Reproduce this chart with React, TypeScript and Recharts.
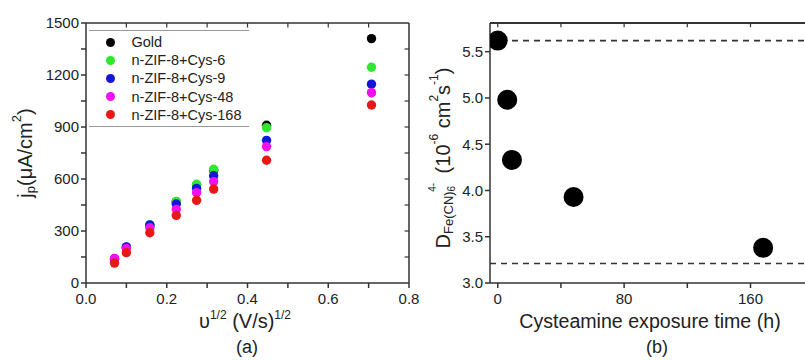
import React from 'react';
import { ScatterChart, Scatter, XAxis, YAxis, Legend, ReferenceLine } from 'recharts';

// ---------- Panel (a) data ----------
const sqrtScanRate = [0.0707, 0.1, 0.1581, 0.2236, 0.2739, 0.3162, 0.4472, 0.7071];
const goldJp = [135, 205, 330, 468, 565, 650, 910, 1410];
const cys6Jp = [138, 206, 335, 471, 570, 656, 896, 1245];
const cys9Jp = [140, 208, 335, 456, 546, 619, 823, 1147];
const cys48Jp = [142, 200, 319, 425, 521, 585, 787, 1098];
const cys168Jp = [115, 175, 290, 390, 477, 542, 708, 1027];
const seriesNamesA = ['Gold', 'n-ZIF-8+Cys-6', 'n-ZIF-8+Cys-9', 'n-ZIF-8+Cys-48', 'n-ZIF-8+Cys-168'];
const seriesColorsA = ['#000000', '#2ee82e', '#1515d8', '#f010f0', '#e81818'];
const xTicksA = [0, 0.1, 0.2, 0.3, 0.4, 0.5, 0.6, 0.7, 0.8];
const yTicksA = [0, 150, 300, 450, 600, 750, 900, 1050, 1200, 1350, 1500];
const xDomainA = [0, 0.8];
const yDomainA = [0, 1500];

// ---------- Panel (b) data ----------
const exposureTime = [0, 6, 9, 48, 168];
const diffusionCoeff = [5.62, 4.98, 4.33, 3.93, 3.38];
const limitLines = [5.62, 3.21];
const xTicksB = [0, 40, 80, 120, 160];
const yTicksB = [3.0, 3.5, 4.0, 4.5, 5.0, 5.5];
const xDomainB = [-4.9, 194.5];
const yDomainB = [3.0, 5.81];

const FONT = '"Liberation Sans", Arial, Helvetica, sans-serif';
const AXIS = '#333';
const TXT = '#222';

const seriesA = [goldJp, cys6Jp, cys9Jp, cys48Jp, cys168Jp].map((vals, i) => ({
  name: seriesNamesA[i],
  color: seriesColorsA[i],
  data: sqrtScanRate.map((x, j) => ({ x, y: vals[j] })),
}));
const dataB = exposureTime.map((x, i) => ({ x, y: diffusionCoeff[i] }));

const dotA = (color: string) => (p: any) => <circle cx={p.cx} cy={p.cy} r={4.7} fill={color} />;
const dotB = (p: any) => <circle cx={p.cx} cy={p.cy} r={10} fill="#000" />;

const tickStyle = { fontSize: 15, fill: TXT, fontFamily: FONT };

const LabelAY = () => (
  <text transform="rotate(-90, 25, 153)" x={25} y={153} textAnchor="middle" dominantBaseline="central"
    fontFamily={FONT} fontSize={20} fill={TXT}>
    j<tspan dy={5} fontSize={13}>p</tspan>
    <tspan dy={-5}>(μA/cm</tspan>
    <tspan dy={-9} fontSize={13}>2</tspan>
    <tspan dy={9}>)</tspan>
  </text>
);

const LabelAX = () => (
  <g fontFamily={FONT} fill={TXT}>
    <text x={245} y={328} textAnchor="middle" fontSize={20}>
      υ<tspan dy={-9} fontSize={12}>1/2</tspan>
      <tspan dy={9}> (V/s)</tspan>
      <tspan dy={-9} fontSize={12}>1/2</tspan>
    </text>
    <text x={247} y={353} textAnchor="middle" fontSize={18}>(a)</text>
  </g>
);

const LabelBY = () => (
  <text transform="rotate(-90, 23, 158)" x={23} y={158} textAnchor="middle" dominantBaseline="central"
    fontFamily={FONT} fontSize={20} fill={TXT}>
    D<tspan dy={5} fontSize={13}>Fe(CN)</tspan>
    <tspan dy={3} fontSize={10}>6</tspan>
    <tspan dy={-19} dx={-6} fontSize={10}>4-</tspan>
    <tspan dy={11} dx={4}> (10</tspan>
    <tspan dy={-9} fontSize={12}>-6</tspan>
    <tspan dy={9}> cm</tspan>
    <tspan dy={-9} fontSize={12}>2</tspan>
    <tspan dy={9}>s</tspan>
    <tspan dy={-9} fontSize={12}>-1</tspan>
    <tspan dy={9}>)</tspan>
  </text>
);

const LabelBX = () => (
  <g fontFamily={FONT} fill={TXT}>
    <text x={230} y={328} textAnchor="middle" fontSize={19.6}>Cysteamine exposure time (h)</text>
    <text x={237} y={353} textAnchor="middle" fontSize={18}>(b)</text>
  </g>
);

const LegendA = () => (
  <div style={{ width: 160, height: 97, borderTop: '1.5px solid #999', borderBottom: '1.5px solid #999', boxSizing: 'border-box', paddingTop: 2 }}>
    {seriesA.map((it) => (
      <div key={it.name} style={{ display: 'flex', alignItems: 'center', height: 18.2, fontFamily: FONT, fontSize: 14.5, color: TXT }}>
        <span style={{ display: 'inline-block', width: 9, height: 9, borderRadius: '50%', background: it.color, marginLeft: 16.5, marginRight: 17 }} />
        <span>{it.name}</span>
      </div>
    ))}
  </div>
);

export default function App() {
  const tickLenA_y = 26; // ~4.5px in data units (top ticks)
  const tickLenA_x = 0.011; // ~4.5px in data units (right ticks)
  const tickLenB_y = 0.045;
  return (
    <div style={{ position: 'absolute', left: 0, top: 0, width: 805, height: 360, background: '#fff', overflow: 'hidden' }}>
      <div style={{ position: 'absolute', left: 0, top: 0 }}>
        <ScatterChart width={420} height={360} margin={{ top: 23, right: 11, bottom: 47, left: 26 }}>
          <XAxis dataKey="x" type="number" domain={xDomainA} ticks={xTicksA} allowDataOverflow
            tickFormatter={(v: number) => (Math.round(v * 10) % 2 === 0 ? v.toFixed(1) : '')}
            height={30} stroke={AXIS} strokeWidth={1.5} tick={tickStyle} tickSize={5} tickMargin={5} label={<LabelAX />} />
          <YAxis dataKey="y" type="number" domain={yDomainA} ticks={yTicksA} allowDataOverflow
            tickFormatter={(v: number) => (v % 300 === 0 ? String(v) : '')}
            width={60} stroke={AXIS} strokeWidth={1.5} tick={tickStyle} tickSize={5} label={<LabelAY />} />
          <ReferenceLine y={yDomainA[1]} stroke={AXIS} strokeWidth={1.5} ifOverflow="visible" />
          <ReferenceLine x={xDomainA[1]} stroke={AXIS} strokeWidth={1.5} ifOverflow="visible" />
          {xTicksA.slice(1, -1).map((t) => (
            <ReferenceLine key={'tx' + t} stroke={AXIS} strokeWidth={1.2} ifOverflow="visible"
              segment={[{ x: t, y: yDomainA[1] }, { x: t, y: yDomainA[1] - tickLenA_y }]} />
          ))}
          {yTicksA.slice(1, -1).map((t) => (
            <ReferenceLine key={'ty' + t} stroke={AXIS} strokeWidth={1.2} ifOverflow="visible"
              segment={[{ x: xDomainA[1], y: t }, { x: xDomainA[1] - tickLenA_x, y: t }]} />
          ))}
          <Legend layout="vertical" align="center" verticalAlign="middle" content={<LegendA />}
            wrapperStyle={{ left: 89, top: 30, width: 160, height: 97 }} />
          {seriesA.map((s) => (
            <Scatter key={s.name} name={s.name} data={s.data} fill={s.color}
              shape={dotA(s.color)} isAnimationActive={false} />
          ))}
        </ScatterChart>
      </div>
      <div style={{ position: 'absolute', left: 420, top: 0 }}>
        <ScatterChart width={385} height={360} margin={{ top: 23, right: 0, bottom: 47, left: 20 }}>
          <XAxis dataKey="x" type="number" domain={xDomainB} ticks={xTicksB} allowDataOverflow
            tickFormatter={(v: number) => (v % 80 === 0 ? String(v) : '')}
            height={30} stroke={AXIS} strokeWidth={1.5} tick={tickStyle} tickSize={5} tickMargin={5} label={<LabelBX />} />
          <YAxis dataKey="y" type="number" domain={yDomainB} ticks={yTicksB} allowDataOverflow
            tickFormatter={(v: number) => v.toFixed(1)}
            width={50} stroke={AXIS} strokeWidth={1.5} tick={tickStyle} tickSize={5} label={<LabelBY />} />
          <ReferenceLine y={yDomainB[1]} stroke={AXIS} strokeWidth={1.8} ifOverflow="visible" />
          {xTicksB.map((t) => (
            <ReferenceLine key={'tb' + t} stroke={AXIS} strokeWidth={1.2} ifOverflow="visible"
              segment={[{ x: t, y: yDomainB[1] }, { x: t, y: yDomainB[1] - tickLenB_y }]} />
          ))}
          {limitLines.map((v) => (
            <ReferenceLine key={v} y={v} stroke="#333" strokeWidth={1.6} strokeDasharray="6 5" />
          ))}
          <Scatter name="D" data={dataB} fill="#000" shape={dotB} isAnimationActive={false} />
        </ScatterChart>
      </div>
    </div>
  );
}
